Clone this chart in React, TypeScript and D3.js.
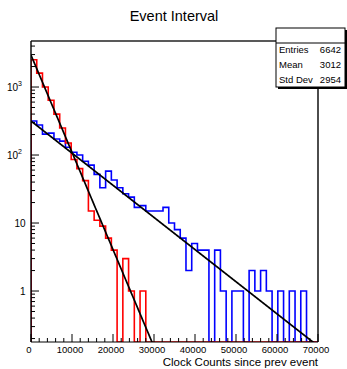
import React from 'react';
import * as d3 from 'd3';

const W = 347;
const H = 369;

// histogram binning
const xMin = 0;
const xMax = 70000;
const nBins = 50;

// bin contents
const redCounts = [
  2520, 1600, 1000, 640, 400, 250, 150, 86, 63, 42,
  15, 11, 9, 6, 4, 0, 3, 1, 0, 1,
  0, 0, 0, 0, 0, 0, 0, 0, 0, 0,
  0, 0, 0, 0, 0, 0, 0, 0, 0, 0,
  0, 0, 0, 0, 0, 0, 0, 0, 0, 0,
];
const blueCounts = [
  316, 276, 203, 210, 172, 160, 130, 110, 100, 81,
  71, 52, 33, 58, 43, 33, 27, 24, 17, 18,
  15, 15, 15, 17, 10, 8, 6, 2, 5, 4,
  4, 0, 4, 1, 0, 1, 1, 0, 2, 1,
  2, 1, 0, 1, 0, 1, 0, 1, 0, 0,
];

// exponential fits: exp(p0 + p1*x)
const redFit = [7.99, -3.293e-4];
const blueFit = [5.756, -1.088e-4];

const yMin = 0.178;
const yMax = 4750;

const xTicks = [0, 10000, 20000, 30000, 40000, 50000, 60000, 70000];
const xTickLabels = ['0', '10000', '20000', '30000', '40000', '50000', '60000', '70000'];
const yTicks = [1, 10, 100, 1000];
const yTickBase = ['1', '10', '10', '10'];
const yTickExp = ['', '', '2', '3'];

const statsLabels = ['Entries', 'Mean', 'Std Dev'];
const statsValues = ['6642', '3012', '2954'];

const title = 'Event Interval';
const xTitle = 'Clock Counts since prev event';

const FONT = '"Liberation Sans", Arial, Helvetica, sans-serif';

export default function App() {
  const left = 31, right = 318, top = 41, bottom = 342;
  const x = d3.scaleLinear().domain([xMin, xMax]).range([left, right]);
  const y = d3.scaleLog().domain([yMin, yMax]).range([bottom, top]);
  const bw = (xMax - xMin) / nBins;

  const yv = (v: number) => (v <= yMin ? bottom : Math.max(top, y(v)));

  const histPath = (counts: number[]) => {
    const p = d3.path();
    p.moveTo(x(xMin), bottom);
    counts.forEach((c, i) => {
      const x0 = x(xMin + i * bw);
      const x1 = x(xMin + (i + 1) * bw);
      p.lineTo(x0, yv(c));
      p.lineTo(x1, yv(c));
    });
    p.lineTo(x(xMax), bottom);
    return p.toString();
  };

  const fitPath = (par: number[]) => {
    const pts = d3.range(0, 201).map((k) => xMin + (k / 200) * (xMax - xMin));
    const line = d3
      .line<number>()
      .x((d) => x(d))
      .y((d) => y(Math.exp(par[0] + par[1] * d)));
    return line(pts) || '';
  };

  // minor ticks
  const xMinor = d3.range(0, xMax + 1, 2000).filter((v) => v % 10000 !== 0);
  const yMinor: number[] = [];
  for (let e = -1; e <= 3; e++) {
    for (let m = 2; m <= 9; m++) {
      const v = m * Math.pow(10, e);
      if (v > yMin && v < yMax) yMinor.push(v);
    }
  }

  const box = { x0: 276, x1: 345, y0: 28, y1: 87, sep: 43 };

  return (
    <svg
      width={W}
      height={H}
      viewBox={`0 0 ${W} ${H}`}
      style={{ position: 'absolute', left: 0, top: 0, background: '#fff' }}
      fontFamily={FONT}
    >
      <rect x={0} y={0} width={W} height={H} fill="#fff" />
      <defs>
        <clipPath id="frameClip">
          <rect x={left} y={top} width={right - left} height={bottom - top} />
        </clipPath>
      </defs>

      {/* title */}
      <text x={174} y={21} textAnchor="middle" fontSize={14.5} fill="#000">
        {title}
      </text>

      {/* histograms */}
      <g clipPath="url(#frameClip)" fill="none" strokeWidth={1.6}>
        <path d={histPath(blueCounts)} stroke="#0000ff" />
        <path d={histPath(redCounts)} stroke="#ff0000" />
        <path d={fitPath(redFit)} stroke="#000" strokeWidth={1.7} />
        <path d={fitPath(blueFit)} stroke="#000" strokeWidth={1.7} />
      </g>

      {/* frame */}
      <line x1={left} x2={right} y1={top} y2={top} stroke="#222" strokeWidth={1.6} />
      <line x1={right} x2={right} y1={top} y2={bottom} stroke="#000" strokeWidth={1.4} />
      <line x1={left} x2={right} y1={bottom} y2={bottom} stroke="#000" strokeWidth={1} />
      <line x1={left} x2={left} y1={top} y2={bottom} stroke="#000" strokeWidth={1.4} />

      {/* ticks */}
      <g stroke="#000" strokeWidth={1}>
        {xTicks.map((t) => (
          <line key={'xt' + t} x1={x(t)} x2={x(t)} y1={bottom} y2={bottom - 8} />
        ))}
        {xMinor.map((t) => (
          <line key={'xm' + t} x1={x(t)} x2={x(t)} y1={bottom} y2={bottom - 4} />
        ))}
        {yTicks.map((t) => (
          <line key={'yt' + t} x1={left} x2={left + 8} y1={y(t)} y2={y(t)} />
        ))}
        {yMinor.map((t) => (
          <line key={'ym' + t} x1={left} x2={left + 4} y1={y(t)} y2={y(t)} />
        ))}
      </g>

      {/* x tick labels */}
      {xTicks.map((t, i) => (
        <text key={'xl' + t} x={x(t) - 2} y={353} textAnchor="middle" fontSize={9.5} fill="#000">
          {xTickLabels[i]}
        </text>
      ))}

      {/* y tick labels */}
      {yTicks.map((t, i) =>
        yTickExp[i] ? (
          <text key={'yl' + t} x={22} y={y(t) + 4} textAnchor="end" fontSize={10} fill="#000">
            <tspan>{yTickBase[i]}</tspan>
            <tspan dy={-5} fontSize={7}>
              {yTickExp[i]}
            </tspan>
          </text>
        ) : (
          <text key={'yl' + t} x={25.5} y={y(t) + 4} textAnchor="end" fontSize={10} fill="#000">
            {yTickBase[i]}
          </text>
        )
      )}

      {/* x axis title */}
      <text x={right} y={366} textAnchor="end" fontSize={11.5} fill="#000">
        {xTitle}
      </text>

      {/* stats box */}
      <rect x={box.x0 + 2} y={box.y0 + 2} width={box.x1 - box.x0} height={box.y1 - box.y0} fill="#000" />
      <rect x={box.x0} y={box.y0} width={box.x1 - box.x0} height={box.y1 - box.y0} fill="#fff" stroke="#000" strokeWidth={1} />
      <line x1={box.x0} x2={box.x1} y1={box.sep} y2={box.sep} stroke="#000" strokeWidth={1} />
      {statsLabels.map((s, i) => (
        <g key={s}>
          <text x={box.x0 + 3} y={53 + i * 15} fontSize={9.5} fill="#000">
            {s}
          </text>
          <text x={box.x1 - 4} y={53 + i * 15} fontSize={9.5} textAnchor="end" fill="#000">
            {statsValues[i]}
          </text>
        </g>
      ))}
    </svg>
  );
}
